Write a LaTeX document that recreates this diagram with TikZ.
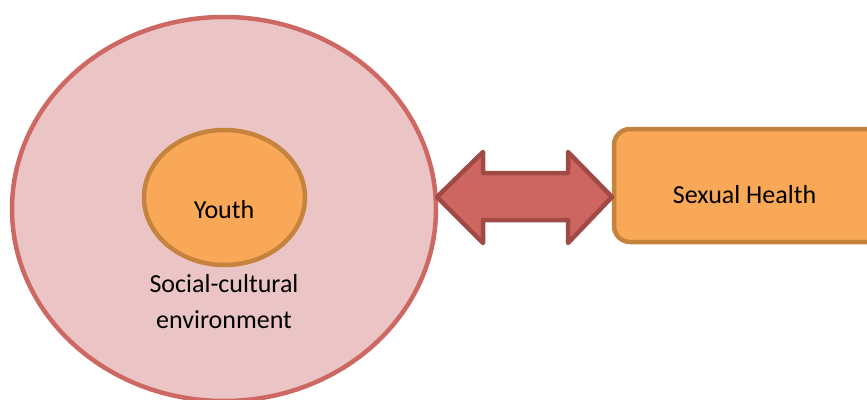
\documentclass[tikz,border=0pt]{standalone}
\usepackage{fontspec}
\setmainfont{Carlito}
\usetikzlibrary{shapes.geometric}
\begin{document}
\begin{tikzpicture}[x=1pt,y=-1pt,
  every node/.style={font=\fontsize{26}{36}\selectfont, text=black},
  outerring/.style={ellipse, draw={rgb,255:red,206;green,104;blue,98}, fill={rgb,255:red,235;green,197;blue,197}, line width=4.5pt, inner sep=0pt},
  orangeshape/.style={draw={rgb,255:red,198;green,131;blue,62}, fill={rgb,255:red,248;green,168;blue,86}, line width=4.5pt, inner sep=0pt},
  linkarrow/.style={draw={rgb,255:red,160;green,73;blue,69}, fill={rgb,255:red,205;green,102;blue,96}, line width=4.5pt, line join=round}
]
  \useasboundingbox (0,0) rectangle (867,399);
  \clip (0,0) rectangle (867,399);

  % surrounding environment and the youth inside it
  \node[outerring, minimum width=424pt, minimum height=384pt] (env) at (224,209) {};
  \node[orangeshape, ellipse, minimum width=161pt, minimum height=135pt] (youth) at (224.5,197.5) {};
  \node[anchor=base] (youthlabel) at (224,218) {Youth};
  \node[anchor=base] (envlabel) at (224,292) {Social-cultural};
  \node[anchor=base] (envlabel2) at (224,328) {environment};

  % outcome box
  \node[orangeshape, rectangle, rounded corners=16pt, minimum width=269pt, minimum height=113pt] (box) at (748.5,185.5) {};
  \node[anchor=base] (health) at (744.5,203) {Sexual Health};

  % two-way link between the environment and the box
  \coordinate (tipL) at (437,197);
  \coordinate (tipR) at (612,197);
  \draw[linkarrow] (tipL) -- (483,152) -- (483,173) -- (568,173) -- (568,152)
    -- (tipR) -- (568,243) -- (568,220) -- (483,220) -- (483,243) -- cycle;
\end{tikzpicture}
\end{document}
